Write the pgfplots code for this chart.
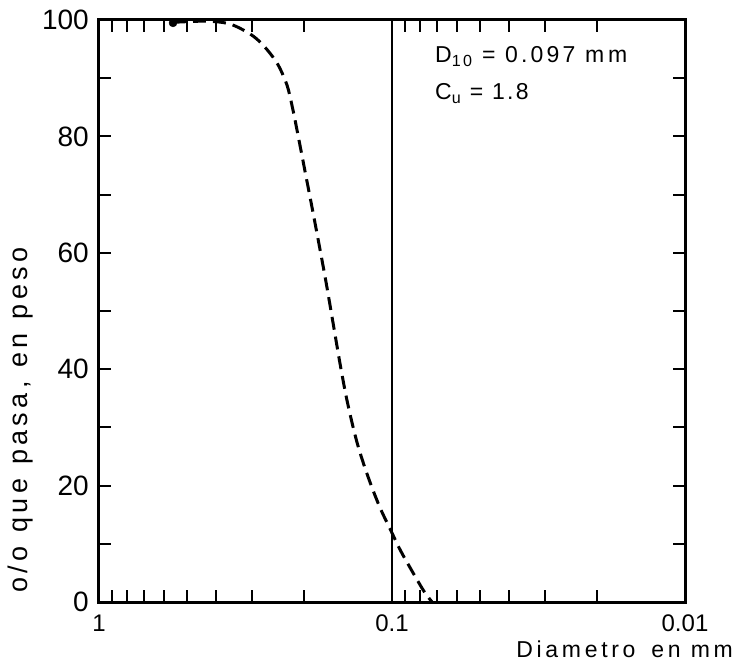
\documentclass[border=0pt]{standalone}
\usepackage{pgfplots}
\pgfplotsset{compat=1.18}
\usepackage{fontspec}
\setmainfont{Liberation Sans}
\begin{document}
\begin{tikzpicture}
\begin{axis}[
  name=ax,
  scale only axis, width=586pt, height=582pt,
  xmode=log, x dir=reverse, xmin=0.01, xmax=1,
  ymin=0, ymax=100,
  xtick={0.01,0.1,1}, xticklabels={0.01,0.1,1},
  minor xtick={0.02,0.03,0.04,0.05,0.06,0.07,0.08,0.09,0.2,0.3,0.4,0.5,0.6,0.7,0.8,0.9},
  ytick={0,20,40,60,80,100}, minor ytick={10,30,50,70,90},
  tick align=inside, major tick length=12pt, minor tick length=12pt,
  axis line style={line width=3pt},
  every tick/.style={line width=2pt, black},
  /pgf/number format/assume math mode=true,
  yticklabel style={font=\fontsize{28}{30}\selectfont, inner sep=0pt, xshift=-10pt},
  xticklabel style={font=\fontsize{24}{26}\selectfont, inner sep=0pt, yshift=-13pt},
  clip=false,
]
\addplot[black, line width=2pt] coordinates {(0.1,0) (0.1,100)};
\addplot[black, line width=3pt, smooth, dash pattern=on 13pt off 7pt] coordinates {
(0.559,99.6) (0.428,99.8) (0.357,99.3) (0.305,97.6) (0.2756,95.7) (0.2468,92.6)
(0.2282,88.8) (0.2177,84.5) (0.2093,80.2) (0.1981,74.0) (0.1875,67.8) (0.1775,61.5)
(0.1680,55.0) (0.1590,48.0) (0.1505,41.0) (0.1436,35.5) (0.1369,30.8) (0.1306,26.8)
(0.1236,23.0) (0.1161,19.2) (0.1090,15.8) (0.1016,12.6) (0.0939,9.0) (0.0854,5.3)
(0.0777,1.8) (0.0730,0)
};
\addplot[only marks, mark=*, mark size=4pt, black] coordinates {(0.559,99.5)};
\end{axis}
\node[anchor=base west, inner sep=0pt, font=\fontsize{23}{25}\selectfont\addfontfeature{LetterSpace=14}] at ([xshift=336pt,yshift=539pt]ax.south west) {D\textsubscript{10} = 0.097 m\,m};
\node[anchor=base west, inner sep=0pt, font=\fontsize{23}{25}\selectfont\addfontfeature{LetterSpace=10}] at ([xshift=336pt,yshift=502pt]ax.south west) {C\textsubscript{u} = 1.8};
\node[anchor=base east, inner sep=0pt, font=\fontsize{23}{25}\selectfont\addfontfeature{LetterSpace=16}] at ([xshift=48pt,yshift=-56pt]ax.south east) {Diametro\hspace{16pt}en mm};
\node[rotate=90, anchor=center, font=\fontsize{27}{29}\selectfont\addfontfeature{LetterSpace=16}] at ([xshift=-78pt,yshift=182pt]ax.south west) {o/o\hspace{14pt}que\hspace{14pt}pasa,\hspace{14pt}en\hspace{14pt}peso};
\path ([xshift=-99pt,yshift=-70pt]ax.south west) rectangle ([xshift=54pt,yshift=20pt]ax.north east);
\end{tikzpicture}
\end{document}
